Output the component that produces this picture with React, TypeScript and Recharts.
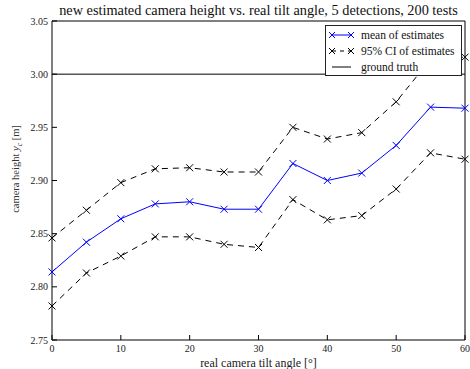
import {
  LineChart,
  Line,
  XAxis,
  YAxis,
  Legend,
  ReferenceLine,
  Label,
} from "recharts";

const angles = [0, 5, 10, 15, 20, 25, 30, 35, 40, 45, 50, 55, 60];
const meanEstimates = [
  2.814, 2.842, 2.864, 2.878, 2.88, 2.873, 2.873, 2.916, 2.9, 2.907, 2.933,
  2.969, 2.968,
];
const ciUpper = [
  2.846, 2.872, 2.898, 2.911, 2.912, 2.908, 2.908, 2.95, 2.939, 2.945, 2.974,
  3.014, 3.016,
];
const ciLower = [
  2.782, 2.813, 2.829, 2.847, 2.847, 2.84, 2.837, 2.882, 2.863, 2.867, 2.892,
  2.926, 2.92,
];
const groundTruth = 3.0;

const xTicks = [0, 10, 20, 30, 40, 50, 60];
const yTicks = [2.75, 2.8, 2.85, 2.9, 2.95, 3.0, 3.05];

const legendItems = [
  { label: "mean of estimates", color: "#0000ff", dash: "", marker: true },
  { label: "95% CI of estimates", color: "#000000", dash: "4 4", marker: true },
  { label: "ground truth", color: "#000000", dash: "", marker: false },
];

const FONT = "'Liberation Serif', 'DejaVu Serif', serif";

const data = angles.map((a, i) => ({
  angle: a,
  mean: meanEstimates[i],
  upper: ciUpper[i],
  lower: ciLower[i],
}));

const xMarker = (color: string) => (props: any) => {
  const { cx, cy, index } = props;
  if (cx == null || cy == null) return <g key={index} />;
  const s = 3.5;
  return (
    <path
      key={index}
      d={`M${cx - s},${cy - s}L${cx + s},${cy + s}M${cx - s},${cy + s}L${cx + s},${cy - s}`}
      stroke={color}
      strokeWidth={1}
      fill="none"
    />
  );
};

const LegendBox = () => (
  <div
    style={{
      background: "#fff",
      border: "1px solid #222",
      width: 137,
      height: 51,
      boxSizing: "border-box",
      fontFamily: FONT,
      color: "#111",
    }}
  >
    <svg width={135} height={49} style={{ display: "block" }}>
      {legendItems.map((it, i) => {
        const y = 9 + i * 16;
        return (
          <g key={it.label}>
            <line
              x1={6}
              x2={25}
              y1={y}
              y2={y}
              stroke={it.color}
              strokeDasharray={it.dash || undefined}
            />
            {it.marker &&
              [6, 25].map((mx) => (
                <path
                  key={mx}
                  d={`M${mx - 3},${y - 3}L${mx + 3},${y + 3}M${mx - 3},${y + 3}L${mx + 3},${y - 3}`}
                  stroke={it.color}
                  fill="none"
                />
              ))}
            <text x={35} y={y + 3.8} fontFamily={FONT} fontSize={11.5} fill="#111">
              {it.label}
            </text>
          </g>
        );
      })}
    </svg>
  </div>
);

export default function App() {
  return (
    <div style={{ position: "absolute", left: 0, top: 0, width: 470, height: 369, background: "#fff" }}>
      <div
        style={{
          position: "absolute",
          left: 52,
          width: 413,
          top: 2,
          textAlign: "center",
          fontFamily: FONT,
          fontSize: 14.3,
          color: "#111",
          whiteSpace: "nowrap",
        }}
      >
        new estimated camera height vs. real tilt angle, 5 detections, 200 tests
      </div>
      <LineChart
        width={470}
        height={369}
        data={data}
        margin={{ top: 20, right: 4, bottom: 0, left: 0 }}
        style={{ position: "absolute", left: 0, top: 0 }}
      >
        <XAxis
          dataKey="angle"
          type="number"
          domain={[0, 60]}
          ticks={xTicks}
          height={29}
          tickSize={-5}
          tickMargin={10}
          axisLine={{ stroke: "#000" }}
          tickLine={{ stroke: "#000" }}
          tick={{ fill: "#222", fontFamily: FONT, fontSize: 10 }}
        >
          <Label
            value="real camera tilt angle [°]"
            position="insideBottom"
            offset={2}
            style={{ fill: "#222", fontFamily: FONT, fontSize: 12 }}
          />
        </XAxis>
        <XAxis
          xAxisId="top"
          orientation="top"
          dataKey="angle"
          type="number"
          domain={[0, 60]}
          ticks={xTicks}
          height={1}
          tickSize={-5}
          axisLine={{ stroke: "#000" }}
          tickLine={{ stroke: "#000" }}
          tick={false}
        />
        <YAxis
          type="number"
          domain={[2.75, 3.05]}
          ticks={yTicks}
          width={52}
          tickSize={-5}
          tickMargin={9}
          tickFormatter={(v: number) => v.toFixed(2)}
          axisLine={{ stroke: "#000" }}
          tickLine={{ stroke: "#000" }}
          tick={{ fill: "#222", fontFamily: FONT, fontSize: 10 }}
        >
          <Label
            angle={-90}
            position="insideLeft"
            offset={4}
            content={() => {
              const cx = 19;
              const cy = 169;
              return (
                <text
                  x={cx}
                  y={cy}
                  transform={`rotate(-90 ${cx} ${cy})`}
                  textAnchor="middle"
                  fontFamily={FONT}
                  fontSize={10.5}
                  fill="#333"
                >
                  camera height <tspan fontStyle="italic">y</tspan>
                  <tspan fontSize={7.5} dy={2.5} fontStyle="italic">c</tspan>
                  <tspan dy={-2.5}> [m]</tspan>
                </text>
              );
            }}
          />
        </YAxis>
        <YAxis
          yAxisId="right"
          orientation="right"
          type="number"
          domain={[2.75, 3.05]}
          ticks={yTicks}
          width={1}
          tickSize={-5}
          axisLine={{ stroke: "#000" }}
          tickLine={{ stroke: "#000" }}
          tick={false}
        />
        <ReferenceLine y={groundTruth} stroke="#000" strokeWidth={1} />
        <Line
          dataKey="upper"
          stroke="#000"
          strokeWidth={1}
          strokeDasharray="6 5"
          dot={xMarker("#000")}
          isAnimationActive={false}
        />
        <Line
          dataKey="lower"
          stroke="#000"
          strokeWidth={1}
          strokeDasharray="6 5"
          dot={xMarker("#000")}
          isAnimationActive={false}
        />
        <Line
          dataKey="mean"
          stroke="#0000ff"
          strokeWidth={1}
          dot={xMarker("#0000ff")}
          isAnimationActive={false}
        />
        <Legend
          layout="vertical"
          align="center"
          verticalAlign="middle"
          content={() => <LegendBox />}
          wrapperStyle={{ position: "absolute", left: 325, top: 25, width: 137, height: 51 }}
        />
      </LineChart>
    </div>
  );
}
